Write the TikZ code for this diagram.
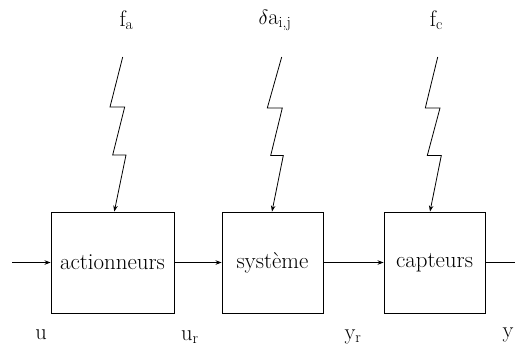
\documentclass[tikz,border=0pt]{standalone}
\usepackage{fontspec}
\usetikzlibrary{arrows.meta}
\begin{document}
\begin{tikzpicture}[x=1bp,y=-1bp,
  blk/.style={draw,line width=0.9bp,minimum width=101bp,minimum height=101bp,inner sep=0pt,font=\rmfamily\fontsize{23}{27}\selectfont},
  lbl/.style={inner sep=0pt,font=\rmfamily\fontsize{22.5}{27}\selectfont},
  conn/.style={line width=0.8bp,-{Stealth[length=6bp,width=4.5bp]}},
  wire/.style={line width=0.8bp}]
\useasboundingbox (0,0) rectangle (515,353);
\node[blk,minimum width=123bp] (a) at (112.5,262.5) {actionneurs};
\node[blk] (s) at (272.5,262.5) {système};
\node[blk] (c) at (434.5,262.5) {capteurs};
\coordinate (in) at (12,262.5);
\coordinate (out) at (516,262.5);
\draw[conn] (in) -- (a.west);
\draw[conn] (a.east) -- (s.west);
\draw[conn] (s.east) -- (c.west);
\draw[wire] (c.east) -- (out);
% disturbance labels
\node[lbl] (fa) at (126.5,20) {f\textsubscript{a}};
\node[lbl] (da) at (275,20) {$\delta$a\textsubscript{i,j}};
\node[lbl] (fc) at (436.5,20) {f\textsubscript{c}};
% lightning bolts
\coordinate (b1) at (122.7,57);
\coordinate (e1) at (114.3,0);
\draw[conn] (b1) -- (110,107) -- (124.7,107) -- (112.7,155) -- (126,155) -- (e1 |- a.north);
\coordinate (b2) at (281.7,57);
\coordinate (e2) at (272,0);
\draw[conn] (b2) -- (267.3,108) -- (282.3,108) -- (270.7,155.5) -- (283.3,155.5) -- (e2 |- s.north);
\coordinate (b3) at (437.7,57);
\coordinate (e3) at (430,0);
\draw[conn] (b3) -- (425.3,108) -- (440,108) -- (427.3,155.5) -- (441.3,155.5) -- (e3 |- c.north);
% signal labels
\node[lbl] (u) at (41,335) {u};
\node[lbl] (ur) at (190,337) {u\textsubscript{r}};
\node[lbl] (yr) at (353,337) {y\textsubscript{r}};
\node[lbl] (y) at (508,335) {y};
\end{tikzpicture}
\end{document}
